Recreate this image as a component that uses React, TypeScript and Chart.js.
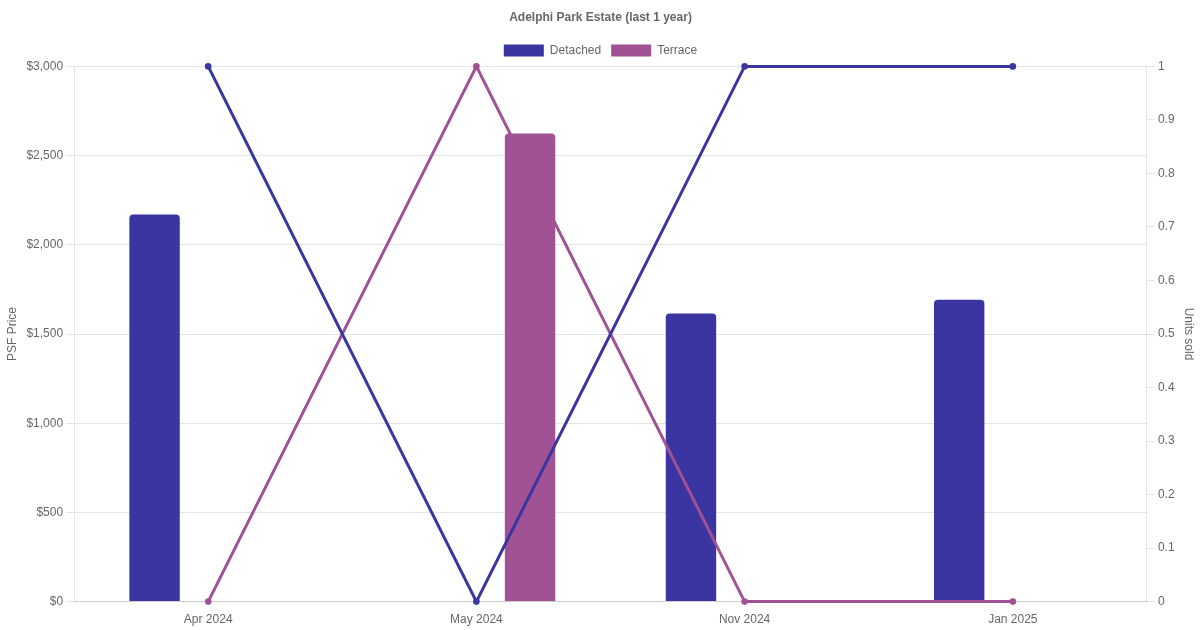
import React, { useEffect, useRef } from "react";
import { Chart, registerables } from "chart.js";

Chart.register(...registerables);

const categories = ["Apr 2024", "May 2024", "Nov 2024", "Jan 2025"];
const detachedPsf = [2170, null, 1615, 1692];
const terracePsf = [null, 2624, null, null];
const detachedUnits = [1, 0, 1, 1];
const terraceUnits = [0, 1, 0, 0];

const BLUE = "#3a35a0";
const PURPLE = "#a05294";
const FONT = "Liberation Sans, Arial, sans-serif";

export default function App() {
  const ref = useRef<HTMLCanvasElement | null>(null);
  useEffect(() => {
    document.body.style.margin = "0";
    const ctx = ref.current!;
    const chart = new Chart(ctx, {
      type: "bar",
      data: {
        labels: categories,
        datasets: [
          {
            type: "bar",
            label: "Detached",
            data: detachedPsf,
            yAxisID: "y",
            backgroundColor: BLUE,
            borderRadius: 4,
            borderSkipped: "bottom",
            barPercentage: 0.47,
            categoryPercentage: 0.8,
            order: 2,
          },
          {
            type: "bar",
            label: "Terrace",
            data: terracePsf,
            yAxisID: "y",
            backgroundColor: PURPLE,
            borderRadius: 4,
            borderSkipped: "bottom",
            barPercentage: 0.47,
            categoryPercentage: 0.8,
            order: 2,
          },
          {
            type: "line",
            label: "Detached units",
            data: detachedUnits,
            yAxisID: "y1",
            borderColor: BLUE,
            backgroundColor: BLUE,
            borderWidth: 3,
            pointRadius: 3.3,
            pointBorderWidth: 0,
            clip: false,
            order: 1,
          } as any,
          {
            type: "line",
            label: "Terrace units",
            data: terraceUnits,
            yAxisID: "y1",
            borderColor: PURPLE,
            backgroundColor: PURPLE,
            borderWidth: 3,
            pointRadius: 3.3,
            pointBorderWidth: 0,
            clip: false,
            order: 1,
          } as any,
        ],
      },
      options: {
        animation: false,
        responsive: false,
        maintainAspectRatio: false,
        layout: { padding: { left: 1, right: 0, top: 0, bottom: 0 } },
        plugins: {
          title: {
            display: true,
            text: "Adelphi Park Estate (last 1 year)",
            color: "#666",
            font: { family: FONT, size: 12, weight: "bold" },
            padding: { top: 10, bottom: 10 },
          },
          legend: {
            display: true,
            labels: {
              color: "#666",
              font: { family: FONT, size: 12 },
              boxWidth: 40,
              boxHeight: 12,
              filter: (item: any) => item.text === "Detached" || item.text === "Terrace",
            },
          },
          tooltip: { enabled: false },
        },
        scales: {
          x: {
            grid: { display: false },
            ticks: { color: "#666", font: { family: FONT, size: 12 } },
          },
          y: {
            position: "left",
            min: 0,
            max: 3000,
            ticks: {
              stepSize: 500,
              color: "#666",
              font: { family: FONT, size: 12 },
              callback: (v: any) => "$" + Number(v).toLocaleString("en-US"),
            },
            grid: { color: "#e5e5e5" },
            title: {
              display: true,
              text: "PSF Price",
              color: "#666",
              font: { family: FONT, size: 12 },
            },
          },
          y1: {
            position: "right",
            min: 0,
            max: 1,
            ticks: {
              stepSize: 0.1,
              color: "#666",
              font: { family: FONT, size: 12 },
              callback: (v: any) => String(Math.round(Number(v) * 10) / 10),
            },
            grid: { drawOnChartArea: false, color: "#e5e5e5" },
            title: {
              display: true,
              text: "Units sold",
              color: "#666",
              font: { family: FONT, size: 12 },
            },
          },
        },
      },
    });
    return () => chart.destroy();
  }, []);
  return (
    <div style={{ width: 1200, height: 630 }}>
      <canvas ref={ref} width={1200} height={630} style={{ width: 1200, height: 630, display: "block" }} />
    </div>
  );
}
